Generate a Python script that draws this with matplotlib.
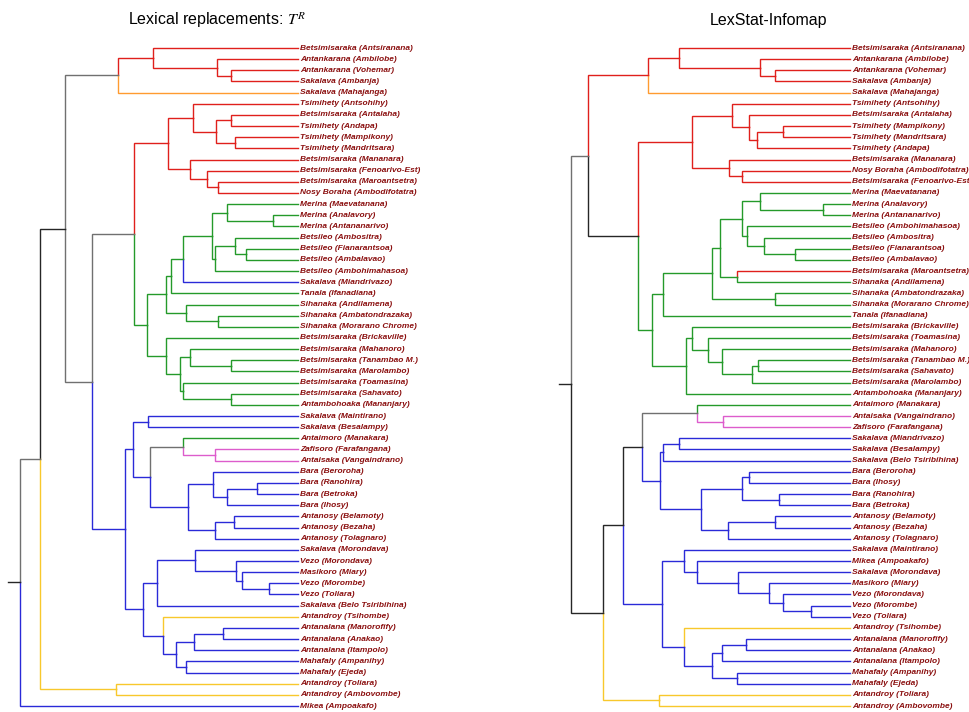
import matplotlib
matplotlib.use("Agg")
import matplotlib.pyplot as plt

plt.rcParams["mathtext.fontset"] = "stix"

COLOURS = {"R": "#e0201c", "O": "#ff9b30", "G": "#249a2a", "B": "#2a2ad8",
           "P": "#dd5ccc", "Y": "#f8c82c", "k": "#262626", "g": "#707070"}
LABEL_COLOUR = "#8b1010"
LW = 1.0

# ---- Lexical replacements tree -------------------------------------------
left_leaves = [
    "Betsimisaraka (Antsiranana)", "Antankarana (Ambilobe)", "Antankarana (Vohemar)",
    "Sakalava (Ambanja)", "Sakalava (Mahajanga)", "Tsimihety (Antsohihy)",
    "Betsimisaraka (Antalaha)", "Tsimihety (Andapa)", "Tsimihety (Mampikony)",
    "Tsimihety (Mandritsara)", "Betsimisaraka (Mananara)", "Betsimisaraka (Fenoarivo-Est)",
    "Betsimisaraka (Maroantsetra)", "Nosy Boraha (Ambodifotatra)", "Merina (Maevatanana)",
    "Merina (Analavory)", "Merina (Antananarivo)", "Betsileo (Ambositra)",
    "Betsileo (Fianarantsoa)", "Betsileo (Ambalavao)", "Betsileo (Ambohimahasoa)",
    "Sakalava (Miandrivazo)", "Tanala (Ifanadiana)", "Sihanaka (Andilamena)",
    "Sihanaka (Ambatondrazaka)", "Sihanaka (Morarano Chrome)", "Betsimisaraka (Brickaville)",
    "Betsimisaraka (Mahanoro)", "Betsimisaraka (Tanambao M.)", "Betsimisaraka (Marolambo)",
    "Betsimisaraka (Toamasina)", "Betsimisaraka (Sahavato)", "Antambohoaka (Mananjary)",
    "Sakalava (Maintirano)", "Sakalava (Besalampy)", "Antaimoro (Manakara)",
    "Zafisoro (Farafangana)", "Antaisaka (Vangaindrano)", "Bara (Beroroha)",
    "Bara (Ranohira)", "Bara (Betroka)", "Bara (Ihosy)",
    "Antanosy (Belamoty)", "Antanosy (Bezaha)", "Antanosy (Tolagnaro)",
    "Sakalava (Morondava)", "Vezo (Morondava)", "Masikoro (Miary)",
    "Vezo (Morombe)", "Vezo (Toliara)", "Sakalava (Belo Tsiribihina)",
    "Antandroy (Tsihombe)", "Antanalana (Manorofify)", "Antanalana (Anakao)",
    "Antanalana (Itampolo)", "Mahafaly (Ampanihy)", "Mahafaly (Ejeda)",
    "Antandroy (Toliara)", "Antandroy (Ambovombe)", "Mikea (Ampoakafo)",
]
left_leaf_colours = "RRRRORRRRRRRRRGGGGGGGBGGGGGGGGGGGBBGPPBBBBBBBBBBBBBYBBBBBYYB"

# (node, child a, child b, height, branch colour)
left_merges = [
    ("L1", 2, 3, 67, "R"), ("L2", 1, "L1", 81, "R"), ("L3", 0, "L2", 145, "R"),
    ("L4", "L3", 4, 180, "g"),
    ("L5", 6, 7, 67, "R"), ("L6", 8, 9, 63, "R"), ("L7", "L5", "L6", 82, "R"),
    ("L8", 5, "L7", 105, "R"), ("L9", 12, 13, 80, "R"), ("L10", 11, "L9", 91, "R"),
    ("L11", 10, "L10", 108, "R"), ("L12", "L8", "L11", 130, "R"),
    ("L13", 15, 16, 25, "G"), ("L14", 14, "L13", 71, "G"), ("L15", 18, 19, 52, "G"),
    ("L16", 17, "L15", 63, "G"), ("L17", "L16", 20, 83, "G"), ("L18", "L14", "L17", 86, "G"),
    ("L19", "L18", 21, 115, "G"), ("L20", "L19", 22, 127, "G"), ("L21", 24, 25, 80, "G"),
    ("L22", 23, "L21", 112, "G"), ("L23", "L20", "L22", 132, "G"),
    ("L24", 28, 29, 67, "G"), ("L25", 27, "L24", 108, "G"), ("L26", 31, 32, 67, "G"),
    ("L27", 30, "L26", 115, "G"), ("L28", "L25", "L27", 118, "G"), ("L29", 26, "L28", 132, "G"),
    ("L30", "L23", "L29", 151, "G"), ("L31", "L12", "L30", 164, "g"),
    ("L32", 33, 34, 150, "B"), ("L33", 36, 37, 83, "P"), ("L34", 35, "L33", 115, "g"),
    ("L35", 39, 40, 41, "B"), ("L36", "L35", 41, 71, "B"), ("L37", 38, "L36", 85, "B"),
    ("L38", 42, 43, 64, "B"), ("L39", "L38", 44, 83, "B"), ("L40", "L37", "L39", 110, "B"),
    ("L41", "L34", "L40", 148, "B"), ("L42", "L32", "L41", 165, "B"),
    ("L43", 48, 49, 29, "B"), ("L44", 47, "L43", 56, "B"), ("L45", 46, "L44", 62, "B"),
    ("L46", 45, "L45", 103, "B"), ("L47", "L46", 50, 141, "B"),
    ("L48", 52, 53, 75, "B"), ("L49", "L48", 54, 104, "B"), ("L50", 55, 56, 112, "B"),
    ("L51", "L49", "L50", 122, "B"), ("L52", 51, "L51", 135, "B"),
    ("L53", "L47", "L52", 155, "B"), ("L54", "L42", "L53", 173, "B"),
    ("L55", "L31", "L54", 206, "g"), ("L56", "L4", "L55", 233, "k"),
    ("L57", 57, 58, 182, "Y"), ("L58", "L56", "L57", 258, "g"),
    ("L59", "L58", 59, 278, "k"),
]

# ---- LexStat-Infomap tree ------------------------------------------------
right_leaves = [
    "Betsimisaraka (Antsiranana)", "Antankarana (Ambilobe)", "Antankarana (Vohemar)",
    "Sakalava (Ambanja)", "Sakalava (Mahajanga)", "Tsimihety (Antsohihy)",
    "Betsimisaraka (Antalaha)", "Tsimihety (Mampikony)", "Tsimihety (Mandritsara)",
    "Tsimihety (Andapa)", "Betsimisaraka (Mananara)", "Nosy Boraha (Ambodifotatra)",
    "Betsimisaraka (Fenoarivo-Est)", "Merina (Maevatanana)", "Merina (Analavory)",
    "Merina (Antananarivo)", "Betsileo (Ambohimahasoa)", "Betsileo (Ambositra)",
    "Betsileo (Fianarantsoa)", "Betsileo (Ambalavao)", "Betsimisaraka (Maroantsetra)",
    "Sihanaka (Andilamena)", "Sihanaka (Ambatondrazaka)", "Sihanaka (Morarano Chrome)",
    "Tanala (Ifanadiana)", "Betsimisaraka (Brickaville)", "Betsimisaraka (Toamasina)",
    "Betsimisaraka (Mahanoro)", "Betsimisaraka (Tanambao M.)", "Betsimisaraka (Sahavato)",
    "Betsimisaraka (Marolambo)", "Antambohoaka (Mananjary)", "Antaimoro (Manakara)",
    "Antaisaka (Vangaindrano)", "Zafisoro (Farafangana)", "Sakalava (Miandrivazo)",
    "Sakalava (Besalampy)", "Sakalava (Belo Tsiribihina)", "Bara (Beroroha)",
    "Bara (Ihosy)", "Bara (Ranohira)", "Bara (Betroka)",
    "Antanosy (Belamoty)", "Antanosy (Bezaha)", "Antanosy (Tolagnaro)",
    "Sakalava (Maintirano)", "Mikea (Ampoakafo)", "Sakalava (Morondava)",
    "Masikoro (Miary)", "Vezo (Morondava)", "Vezo (Morombe)",
    "Vezo (Toliara)", "Antandroy (Tsihombe)", "Antanalana (Manorofify)",
    "Antanalana (Anakao)", "Antanalana (Itampolo)", "Mahafaly (Ampanihy)",
    "Mahafaly (Ejeda)", "Antandroy (Toliara)", "Antandroy (Ambovombe)",
]
right_leaf_colours = "RRRRORRRRRRRRGGGGGGGRGGGGGGGGGGGGPPBBBBBBBBBBBBBBBBBYBBBBBYY"

right_merges = [
    ("R1", 2, 3, 75, "R"), ("R2", 1, "R1", 90, "R"), ("R3", 0, "R2", 171, "R"),
    ("R4", "R3", 4, 202, "R"),
    ("R5", 7, 8, 67, "R"), ("R6", "R5", 9, 93, "R"), ("R7", 6, "R6", 101, "R"),
    ("R8", 5, "R7", 118, "R"), ("R9", 11, 12, 108, "R"), ("R10", 10, "R9", 121, "R"),
    ("R11", "R8", "R10", 158, "R"),
    ("R12", 14, 15, 27, "G"), ("R13", 13, "R12", 90, "G"), ("R14", 18, 19, 55, "G"),
    ("R15", 17, "R14", 86, "G"), ("R16", 16, "R15", 103, "G"), ("R17", "R13", "R16", 108, "G"),
    ("R18", 20, 21, 113, "G"), ("R19", "R17", "R18", 130, "G"), ("R20", 22, 23, 75, "G"),
    ("R21", "R19", "R20", 138, "G"), ("R22", "R21", 24, 187, "G"),
    ("R23", 28, 29, 92, "G"), ("R24", "R23", 30, 98, "G"), ("R25", 27, "R24", 128, "G"),
    ("R26", 26, "R25", 142, "G"), ("R27", 25, "R26", 158, "G"), ("R28", "R27", 31, 164, "G"),
    ("R29", "R22", "R28", 198, "G"), ("R30", "R11", "R29", 212, "k"),
    ("R31", "R4", "R30", 262, "g"),
    ("R32", 33, 34, 127, "P"), ("R33", 32, "R32", 153, "g"),
    ("R34", 35, 36, 171, "B"), ("R35", "R34", 37, 187, "B"),
    ("R36", 38, 39, 101, "B"), ("R37", 40, 41, 71, "B"), ("R38", "R36", "R37", 108, "B"),
    ("R39", 42, 43, 75, "B"), ("R40", "R39", 44, 122, "B"), ("R41", "R38", "R40", 149, "B"),
    ("R42", "R35", "R41", 190, "B"), ("R43", "R33", "R42", 208, "k"),
    ("R44", 50, 51, 39, "B"), ("R45", 49, "R44", 67, "B"), ("R46", 48, "R45", 81, "B"),
    ("R47", 47, "R46", 112, "B"), ("R48", 46, "R47", 153, "B"), ("R49", 45, "R48", 166, "B"),
    ("R50", 53, 54, 104, "B"), ("R51", "R50", 55, 128, "B"), ("R52", 56, 57, 113, "B"),
    ("R53", "R51", "R52", 138, "B"), ("R54", 52, "R53", 166, "B"),
    ("R55", "R49", "R54", 188, "B"), ("R56", "R43", "R55", 227, "k"),
    ("R57", 58, 59, 191, "Y"), ("R58", "R56", "R57", 247, "k"),
    ("R59", "R31", "R58", 279, "k"),
]


def draw_tree(ax, leaves, leaf_colours, merges, stub=12):
    pos = {i: (0.0, float(i), c) for i, c in enumerate(leaf_colours)}
    for name, a, b, h, col in merges:
        mid = (pos[a][1] + pos[b][1]) / 2
        for child in (a, b):
            ch, cy, cc = pos[child]
            ax.plot([h, h, ch], [mid, cy, cy], color=COLOURS[cc], lw=LW,
                    solid_joinstyle="miter", clip_on=False)
        pos[name] = (h, mid, col)
    root_h, root_y, root_c = pos[merges[-1][0]]
    ax.plot([root_h, root_h + stub], [root_y, root_y], color=COLOURS[root_c],
            lw=LW, clip_on=False)
    for i, name in enumerate(leaves):
        ax.text(-2, i, name, ha="left", va="center", fontsize=6.0,
                family="Liberation Sans", weight="bold", style="italic",
                color=LABEL_COLOUR)
    ax.set_xlim(root_h + stub, 0)
    ax.set_ylim(len(leaves) - 1, 0)
    ax.axis("off")


def main():
    W, H = 970, 712
    fig = plt.figure(figsize=(W / 100, H / 100), dpi=100)
    top, bottom = 48, 706
    ax_l = fig.add_axes([8 / W, 1 - bottom / H, 290 / W, (bottom - top) / H])
    ax_r = fig.add_axes([559 / W, 1 - bottom / H, 291 / W, (bottom - top) / H])

    draw_tree(ax_l, left_leaves, left_leaf_colours, left_merges)
    draw_tree(ax_r, right_leaves, right_leaf_colours, right_merges)

    fig.text(128 / W, 1 - 20 / H, "Lexical replacements: $T^R$", ha="left",
             va="center", fontsize=11.5, family="Liberation Sans")
    fig.text(710 / W, 1 - 20 / H, "LexStat-Infomap", ha="left", va="center",
             fontsize=11.5, family="Liberation Sans")

    fig.savefig("out.png", dpi=100)


if __name__ == "__main__":
    main()
